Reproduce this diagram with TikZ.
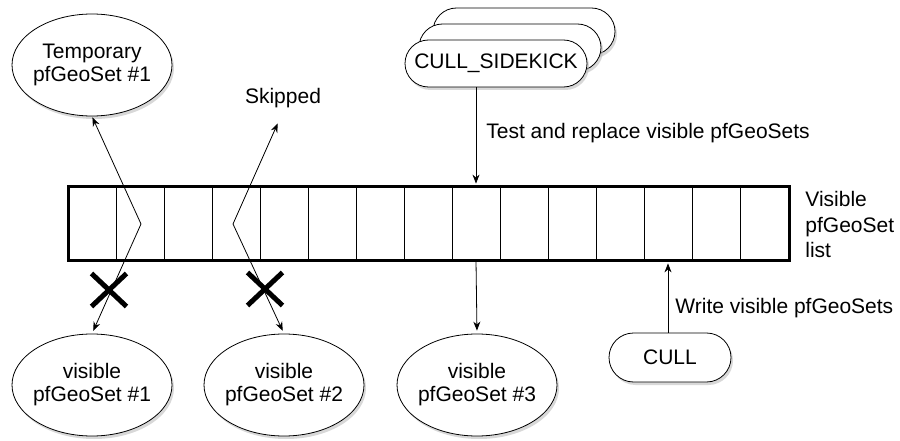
\documentclass[tikz,border=0pt]{standalone}
\usepackage{fontspec}
\setmainfont{Liberation Sans}
\usetikzlibrary{arrows.meta,shapes.geometric,shapes.misc,shadows}

\begin{document}
\begin{tikzpicture}
  [x=1pt,y=-1pt,line width=0.8pt,font=\fontsize{21}{23}\selectfont,
   >={Stealth[length=9pt,width=7pt]},
   shade/.style={drop shadow={shadow xshift=2pt,shadow yshift=-3pt,fill=black!30}},
   geoset/.style={ellipse,draw,fill=white,align=center,minimum width=160pt,
     minimum height=102pt,inner xsep=-4pt,inner ysep=0pt,shade},
   proc/.style={rectangle,rounded corners=23.5pt,draw,fill=white,
     minimum height=47pt,inner xsep=2pt,shade},
   cell/.style={draw,minimum width=48pt,minimum height=73pt,inner sep=0pt},
   cross/.style={cross out,draw,line width=5pt,minimum width=30pt,
     minimum height=28pt,inner sep=0pt},
   lbl/.style={anchor=west,align=left,inner sep=0pt}]
  \useasboundingbox (0,0) rectangle (900,441);

  \foreach \i in {1,...,15}
    \node[cell] (c\i) at (68+48*\i-24,223.5) {};
  \node[draw,line width=3pt,minimum width=721pt,minimum height=73pt] (list) at (428.5,223.5) {};
  \node[lbl,font=\fontsize{21}{25.5}\selectfont] (vislist) at (805,224.5) {Visible\\pfGeoSet\\list};

  \node[geoset] (tmp) at (92,65) {Temporary\\pfGeoSet \#1};
  \node (skip) at (283,98) {Skipped};
  \node[geoset] (v1) at (92,385) {visible\\pfGeoSet \#1};
  \node[geoset] (v2) at (284,385) {visible\\pfGeoSet \#2};
  \node[geoset] (v3) at (477,385) {visible\\pfGeoSet \#3};

  \node[proc,minimum width=182pt] (sk3) at (524,31.5) {};
  \node[proc,minimum width=182pt] (sk2) at (510,47.5) {};
  \node[proc,minimum width=182pt] (sk1) at (496,63.5) {CULL\_SIDEKICK};
  \node[proc,minimum width=122pt,minimum height=49pt,rounded corners=24.5pt] (cull) at (670,357.5) {CULL};

  \coordinate (bendA) at (141,224);
  \coordinate (bendB) at (233,224);
  \draw[<->,shorten <=1pt,shorten >=3pt] (tmp.south) -- (bendA) -- (v1.north);
  \draw[<->,shorten <=13pt,shorten >=3pt] (skip.south) -- (bendB) -- (v2.north);

  \draw[->,shorten >=3pt] (sk1.south -| c9) -- (c9.north);
  \node[lbl] (test) at (486,133) {Test and replace visible pfGeoSets};
  \draw[->,shorten <=1.5pt,shorten >=3pt] (c9.south) -- (v3.north);

  \draw[->,shorten >=3pt] (cull.north -| c13) -- (c13.south);
  \node[lbl] (write) at (675,308) {Write visible pfGeoSets};

  \node[cross] (xa) at (109,290) {};
  \node[cross] (xb) at (265,289) {};
\end{tikzpicture}
\end{document}
